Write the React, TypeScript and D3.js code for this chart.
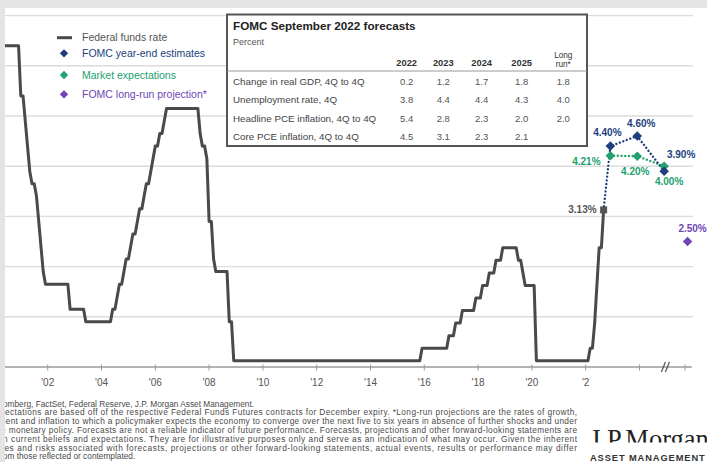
import React from "react";
import * as d3 from "d3";

// Federal funds rate (target, midpoint of range after 2008), monthly turning points
const rateHistory: [string, number][] = [
  ["2000-01", 6.4], ["2000-12", 6.4], ["2001-01", 5.4], ["2001-02", 5.4],
  ["2001-03", 4.9], ["2001-04", 4.4], ["2001-05", 3.9], ["2001-06", 3.65],
  ["2001-07", 3.65], ["2001-08", 3.4], ["2001-09", 2.9], ["2001-10", 2.4],
  ["2001-11", 1.9], ["2001-12", 1.65], ["2002-10", 1.65], ["2002-11", 1.15],
  ["2003-05", 1.15], ["2003-06", 0.9], ["2004-05", 0.9], ["2004-06", 1.15],
  ["2004-07", 1.15], ["2004-08", 1.4], ["2004-09", 1.65], ["2004-10", 1.65],
  ["2004-11", 1.9], ["2004-12", 2.15], ["2005-01", 2.15], ["2005-02", 2.4],
  ["2005-03", 2.65], ["2005-04", 2.65], ["2005-05", 2.9], ["2005-06", 3.15],
  ["2005-07", 3.15], ["2005-08", 3.4], ["2005-09", 3.65], ["2005-10", 3.65],
  ["2005-11", 3.9], ["2005-12", 4.15], ["2006-01", 4.4], ["2006-02", 4.4],
  ["2006-03", 4.65], ["2006-04", 4.65], ["2006-05", 4.9], ["2006-06", 5.15],
  ["2007-08", 5.15], ["2007-09", 4.65], ["2007-10", 4.4], ["2007-11", 4.4],
  ["2007-12", 4.15], ["2008-01", 2.9], ["2008-02", 2.9], ["2008-03", 2.15],
  ["2008-04", 1.9], ["2008-09", 1.9], ["2008-10", 0.9], ["2008-11", 0.9],
  ["2008-12", 0.125], ["2015-11", 0.125], ["2015-12", 0.375], ["2016-11", 0.375],
  ["2016-12", 0.625], ["2017-02", 0.625], ["2017-03", 0.875], ["2017-05", 0.875],
  ["2017-06", 1.125], ["2017-11", 1.125], ["2017-12", 1.375], ["2018-02", 1.375],
  ["2018-03", 1.625], ["2018-05", 1.625], ["2018-06", 1.875], ["2018-08", 1.875],
  ["2018-09", 2.125], ["2018-11", 2.125], ["2018-12", 2.375], ["2019-06", 2.375],
  ["2019-07", 2.125], ["2019-08", 2.125], ["2019-09", 1.875], ["2019-10", 1.625],
  ["2020-02", 1.625], ["2020-03", 0.125], ["2022-02", 0.125], ["2022-03", 0.375],
  ["2022-04", 0.375], ["2022-05", 0.875], ["2022-06", 1.625], ["2022-07", 2.375],
  ["2022-08", 2.375], ["2022-09", 3.13],
];

// Year-end forecasts
const forecastMonths = ["2022-12", "2023-12", "2024-12"];
const fomcYearEnd = [4.4, 4.6, 3.9];
const marketExpectations = [4.21, 4.2, 4.0];
const longRunProjection = 2.5;

// Axis
const tickYears = [2002, 2004, 2006, 2008, 2010, 2012, 2014, 2016, 2018, 2020, 2022, 2024];
const tickLabels = ["'02", "'04", "'06", "'08", "'10", "'12", "'14", "'16", "'18", "'20", "'2", ""];
const gridValues = [1, 2, 3, 4, 5, 6, 7];

// FOMC table
const tableColumns = ["2022", "2023", "2024", "2025"];
const tableRowLabels = [
  "Change in real GDP, 4Q to 4Q",
  "Unemployment rate, 4Q",
  "Headline PCE inflation, 4Q to 4Q",
  "Core PCE inflation, 4Q to 4Q",
];
const gdpRow = [0.2, 1.2, 1.7, 1.8, 1.8];
const unemploymentRow = [3.8, 4.4, 4.4, 4.3, 4.0];
const headlinePceRow = [5.4, 2.8, 2.3, 2.0, 2.0];
const corePceRow = [4.5, 3.1, 2.3, 2.1, null];

const footerLines = [
  "Source: Bloomberg, FactSet, Federal Reserve, J.P. Morgan Asset Management.",
  "Market expectations are based off of the respective Federal Funds Futures contracts for December expiry. *Long-run projections are the rates of growth,",
  "unemployment and inflation to which a policymaker expects the economy to converge over the next five to six years in absence of further shocks and under",
  "appropriate monetary policy. Forecasts are not a reliable indicator of future performance. Forecasts, projections and other forward-looking statements are",
  "based upon current beliefs and expectations. They are for illustrative purposes only and serve as an indication of what may occur. Given the inherent",
  "uncertainties and risks associated with forecasts, projections or other forward-looking statements, actual events, results or performance may differ",
  "materially from those reflected or contemplated.",
];

const W = 707;
const H = 462;
const FONT = "'Liberation Sans', Arial, Helvetica, sans-serif";
const C = {
  rate: "#4a4a4a",
  navy: "#213f7e",
  green: "#22a06f",
  purple: "#6e46b5",
  grid: "#dcdcdc",
  axis: "#9a9a9a",
  text: "#555",
  frame: "#e4e4e4",
};

const toYear = (m: string) => {
  const [yy, mm] = m.split("-").map(Number);
  return yy + (mm - 1) / 12;
};

const x = d3.scaleLinear().domain([2000, 2026]).range([-6.1, 693.3]);
const y = d3.scaleLinear().domain([0, 7]).range([367, 15.6]);
const axisBreakAt = 2025.0;
const longRunAt = 2025.75;

const diamond = d3.symbol().type(d3.symbolDiamond2).size(58);
const legendDiamond = d3.symbol().type(d3.symbolDiamond2).size(44);

export default function App() {
  const linePath = d3
    .line<[string, number]>()
    .x((d) => x(toYear(d[0])))
    .y((d) => y(d[1]))(rateHistory) as string;

  const last = rateHistory[rateHistory.length - 1];
  const lastX = x(toYear(last[0]));
  const lastY = y(last[1]);

  const fx = forecastMonths.map((m) => x(toYear(m)));
  const blueDots = d3.line()([[lastX, lastY], ...fx.map((v, i) => [v, y(fomcYearEnd[i])] as [number, number])]) as string;
  const greenDots = d3.line()(fx.map((v, i) => [v, y(marketExpectations[i])] as [number, number])) as string;

  const blueLabelOffsets = [[-3, -14], [4, -13], [17, -17]];
  const greenLabelOffsets = [[-24, 6], [-2, 15], [5, 15.5]];

  const tableData = [gdpRow, unemploymentRow, headlinePceRow, corePceRow];
  const colX = [406.7, 443.3, 481.7, 521.7, 563.3];
  const rowY = [84.5, 103, 121.8, 140.2];

  const dotStyle = { strokeDasharray: "0.01 3.7", strokeLinecap: "round" as const, strokeWidth: 2.4, fill: "none" };

  return (
    <svg width={W} height={H} style={{ position: "absolute", left: 0, top: 0, background: "#fff" }} fontFamily={FONT}>
      <defs>
        <clipPath id="logoClip">
          <rect x={580} y={400} width={140} height={42.5} />
        </clipPath>
      </defs>
      <rect x={0} y={0} width={W} height={H} fill="#fff" />

      {/* gridlines */}
      {gridValues.map((g) => (
        <line key={g} x1={5} x2={693} y1={y(g)} y2={y(g)} stroke={C.grid} strokeWidth={1.4} />
      ))}

      {/* x axis */}
      <line x1={5} x2={x(2026) - 1.5} y1={y(0)} y2={y(0)} stroke={C.axis} strokeWidth={1.5} />
      {tickYears.map((t, i) => (
        <g key={t}>
          <line x1={x(t)} x2={x(t)} y1={y(0) - 2.5} y2={y(0) + 3.5} stroke={C.axis} strokeWidth={1} />
          <text x={x(t)} y={386} fontSize={10} fill={C.text} textAnchor="middle">
            {tickLabels[i]}
          </text>
        </g>
      ))}
      <line x1={x(longRunAt) - 1.5} x2={x(longRunAt) - 1.5} y1={y(0) - 2.5} y2={y(0) + 3.5} stroke={C.axis} strokeWidth={1} />
      <g stroke="#555" strokeWidth={1.2}>
        <line x1={x(axisBreakAt) - 5} y1={y(0) + 5} x2={x(axisBreakAt) - 1} y2={y(0) - 5} />
        <line x1={x(axisBreakAt) - 1} y1={y(0) + 5} x2={x(axisBreakAt) + 3} y2={y(0) - 5} />
      </g>

      {/* federal funds rate */}
      <path d={linePath} fill="none" stroke={C.rate} strokeWidth={3} strokeLinejoin="round" />

      {/* forecast paths */}
      <path d={greenDots} stroke={C.green} {...dotStyle} />
      <path d={blueDots} stroke={C.navy} {...dotStyle} />

      <rect x={lastX - 3.5} y={lastY - 3.5} width={7} height={7} fill="#555" />
      <text x={lastX - 7} y={lastY + 3.5} fontSize={10} fontWeight="bold" fill={C.text} textAnchor="end">
        {last[1].toFixed(2)}%
      </text>

      {marketExpectations.map((v, i) => (
        <g key={"g" + i}>
          <path d={diamond() as string} transform={`translate(${fx[i]},${y(v)})`} fill={C.green} />
          <text x={fx[i] + greenLabelOffsets[i][0]} y={y(v) + greenLabelOffsets[i][1] + 3.5} fontSize={10} fontWeight="bold" fill={C.green} textAnchor="middle">
            {v.toFixed(2)}%
          </text>
        </g>
      ))}
      {fomcYearEnd.map((v, i) => (
        <g key={"b" + i}>
          <path d={diamond() as string} transform={`translate(${fx[i]},${y(v)})`} fill={C.navy} />
          <text x={fx[i] + blueLabelOffsets[i][0]} y={y(v) + blueLabelOffsets[i][1] + 3.5} fontSize={10} fontWeight="bold" fill={C.navy} textAnchor="middle">
            {v.toFixed(2)}%
          </text>
        </g>
      ))}
      <path d={diamond() as string} transform={`translate(${x(longRunAt) + 1},${y(longRunProjection)})`} fill={C.purple} />
      <text x={x(longRunAt) + 6} y={y(longRunProjection) - 13 + 3.5} fontSize={10} fontWeight="bold" fill={C.purple} textAnchor="middle">
        {longRunProjection.toFixed(2)}%
      </text>

      {/* legend */}
      <g fontSize={10.5}>
        <line x1={57} x2={72} y1={37.7} y2={37.7} stroke={C.rate} strokeWidth={3} />
        <text x={82} y={41.3} fill={C.text}>Federal funds rate</text>
        <path d={legendDiamond() as string} transform="translate(64,53.3)" fill={C.navy} />
        <text x={82} y={57} fill={C.navy}>FOMC  year-end estimates</text>
        <path d={legendDiamond() as string} transform="translate(64,75)" fill={C.green} />
        <text x={82} y={78.6} fill={C.green}>Market expectations</text>
        <path d={legendDiamond() as string} transform="translate(64,94.3)" fill={C.purple} />
        <text x={82} y={98} fill={C.purple}>FOMC  long-run projection*</text>
      </g>

      {/* FOMC forecasts table */}
      <g>
        <rect x={227} y={14.5} width={360} height={131.5} fill="#fff" stroke="#555" strokeWidth={2} />
        <text x={233} y={29.5} fontSize={11.7} fontWeight="bold" fill="#222">FOMC September 2022 forecasts</text>
        <text x={233} y={45} fontSize={9} fill={C.text}>Percent</text>
        {tableColumns.map((c, i) => (
          <text key={c} x={colX[i]} y={66} fontSize={9.3} fontWeight="bold" fill="#333" textAnchor="middle">{c}</text>
        ))}
        <text x={colX[4]} y={57.5} fontSize={8.2} fill="#333" textAnchor="middle">Long</text>
        <text x={colX[4]} y={66.5} fontSize={8.2} fill="#333" textAnchor="middle">run*</text>
        <line x1={227} x2={587} y1={71} y2={71} stroke="#999" strokeWidth={1} />
        {tableRowLabels.map((r, i) => (
          <g key={r}>
            <text x={233} y={rowY[i]} fontSize={9.8} fill="#444">{r}</text>
            {tableData[i].map((v, j) =>
              v === null ? null : (
                <text key={j} x={colX[j]} y={rowY[i]} fontSize={9.5} fill={C.text} textAnchor="middle">{v.toFixed(1)}</text>
              )
            )}
          </g>
        ))}
      </g>

      {/* footnotes */}
      <g fontSize={8.3} fill="#4a4a4a">
        {footerLines.map((l, i) => (
          <text
            key={i}
            x={-40}
            y={406.5 + i * 8.8}
            {...(i > 0 && i < footerLines.length - 1 ? { textLength: 617, lengthAdjust: "spacing" } : {})}
          >
            {l}
          </text>
        ))}
      </g>

      {/* logo */}
      <text x={590} y={447.5} fontSize={26.5} fontFamily="'Liberation Serif', 'DejaVu Serif', serif" fill="#222" clipPath="url(#logoClip)">
        J.P.Morgan
      </text>
      <text x={590} y={461} fontSize={9.3} fontWeight="bold" letterSpacing={0.9} fill="#333">ASSET MANAGEMENT</text>

      {/* page frame */}
      <rect x={0} y={0} width={W} height={8} fill={C.frame} />
      <rect x={0} y={0} width={5} height={H} fill={C.frame} />
    </svg>
  );
}
